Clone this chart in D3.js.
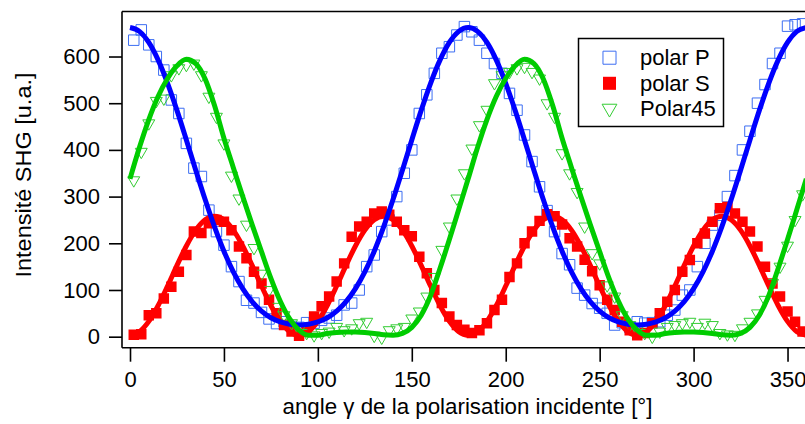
<!DOCTYPE html>
<html><head><meta charset="utf-8">
<script src="https://cdn.jsdelivr.net/npm/d3@7"></script>
<style>
body{margin:0;background:#fff}
svg{display:block}
text{font-family:"Liberation Sans",Arial,Helvetica,sans-serif;fill:#000}
</style></head>
<body><svg id="c" width="805" height="424"></svg>
<script>
// ---- data ----
const angles = [2,6,10,14,18,22,26,30,34,38,42,46,50,54,58,62,66,70,74,78,
  82,86,90,94,98,102,106,110,114,118,122,126,130,134,138,142,146,150,154,158,
  162,166,170,174,178,182,186,190,194,198,202,206,210,214,218,222,226,230,234,238,
  242,246,250,254,258,262,266,270,274,278,282,286,290,294,298,302,306,310,314,318,
  322,326,330,334,338,342,346,350,354,358];
const polarP = [635,657,625,600,571,507,478,414,361,343,271,225,196,150,118,78,72,52,38,28,
  32,22,20,30,29,35,40,46,68,72,100,150,175,225,250,300,350,400,478,518,
  564,607,621,646,664,653,635,607,585,564,521,485,432,375,321,270,225,178,154,104,
  89,71,61,50,25,30,20,32,29,30,32,46,57,89,100,150,200,239,260,300,
  345,400,440,500,540,585,607,665,668,670];
const polarS = [4,5,46,50,82,107,139,175,225,222,243,250,246,228,193,168,139,114,79,50,
  25,11,2,14,43,65,86,118,157,214,236,246,264,268,261,246,228,215,171,136,
  100,72,43,25,15,8,14,29,57,79,128,157,200,225,248,262,258,240,211,193,
  165,140,110,79,57,32,14,3,8,29,50,75,100,139,164,200,221,246,275,278,
  264,246,225,193,150,114,86,54,32,11];
const polar45 = [335,396,457,505,510,560,575,582,585,560,514,471,414,345,296,240,190,135,100,64,
  46,29,15,8,3,8,11,21,14,18,29,32,2,-2,14,18,21,39,54,86,
  128,186,236,296,350,403,453,486,543,560,567,575,578,567,553,500,471,393,350,310,
  236,179,157,110,86,46,25,14,8,0,11,21,25,29,32,21,30,25,8,5,
  4,18,32,50,79,115,150,195,250,305];

const fitAngles = [0,5,10,15,20,25,30,35,40,45,50,55,60,65,70,75,80,85,90,95,
  100,105,110,115,120,125,130,135,140,145,150,155,160,165,170,175,180,185,190,195,
  200,205,210,215,220,225,230,235,240,245,250,255,260,265,270,275,280,285,290,295,
  300,305,310,315,320,325,330,335,340,345,350,355,360];
const fitP = [662,653.9,630.1,592.2,542.7,484.6,421.4,356.6,293.6,235,183,138.8,102.9,75.1,54.7,40.5,31.5,26.6,25,26.6,
  31.5,40.5,54.7,75.1,102.9,138.8,183,235,293.6,356.6,421.4,484.6,542.7,592.2,630.1,653.9,662,653.9,630.1,592.2,
  542.7,484.6,421.4,356.6,293.6,235,183,138.8,102.9,75.1,54.7,40.5,31.5,26.6,25,26.6,31.5,40.5,54.7,75.1,
  102.9,138.8,183,235,293.6,356.6,421.4,484.6,542.7,592.2,630.1,653.9,662];
const fitS = [3,10.7,32.8,66.8,108.4,152.6,194.3,228.2,250.3,258,250.3,228.2,194.3,152.6,108.4,66.8,32.8,10.7,3,10.7,
  32.8,66.8,108.4,152.6,194.3,228.2,250.3,258,250.3,228.2,194.3,152.6,108.4,66.8,32.8,10.7,3,10.7,32.8,66.8,
  108.4,152.6,194.3,228.2,250.3,258,250.3,228.2,194.3,152.6,108.4,66.8,32.8,10.7,3,10.7,32.8,66.8,108.4,152.6,
  194.3,228.2,250.3,258,250.3,228.2,194.3,152.6,108.4,66.8,32.8,10.7,3];
const fit45 = [338,405,465,515,553,580,594,585,552,495,425,362,300,240,182,125,76,38,14,3,
  3,7,9,10,10,9,7,4,3,7,20,46,88,146,208,273,338,405,465,515,
  553,580,594,585,552,495,425,362,300,240,182,125,76,38,14,3,3,7,9,10,
  10,9,7,4,3,7,20,46,88,146,208,273,338];

const xTicks = [0,50,100,150,200,250,300,350];
const yTicks = [0,100,200,300,400,500,600];
const legendLabels = ["polar P","polar S","Polar45"];
const xTitle = "angle \u03b3 de la polarisation incidente [\u00b0]";
const yTitle = "Intensit\u00e9 SHG [u.a.]";

// ---- layout ----
const L = 122, R = 805, T = 11.5, B = 347.7;
const FS = 22;
const svg = d3.select("#c");
const x = d3.scaleLinear().domain([-4.26, 359.3]).range([L, R]);
const y = d3.scaleLinear().domain([-23.6, 696.4]).range([B, T]);

svg.append("defs").append("clipPath").attr("id","clip")
  .append("rect").attr("x",L).attr("y",T).attr("width",R-L).attr("height",B-T);

const plot = svg.append("g").attr("clip-path","url(#clip)");

const colP = "#3d6ef2", colS = "#ff0000", col45 = "#33cc33";
const lineP = "#0000ff", lineS = "#ff0000", line45 = "#00cc00";

const sq = d3.symbol().type(d3.symbolSquare).size(110)();
const tri = d3.symbol().type(d3.symbolTriangle).size(62)();

// markers
plot.append("g").selectAll("path").data(angles).join("path")
  .attr("d", sq).attr("transform",(a,i)=>`translate(${x(a)},${y(polarP[i])})`)
  .attr("fill","none").attr("stroke",colP).attr("stroke-width",1);
plot.append("g").selectAll("path").data(angles).join("path")
  .attr("d", sq).attr("transform",(a,i)=>`translate(${x(a)},${y(polarS[i])})`)
  .attr("fill",colS).attr("stroke","none");
plot.append("g").selectAll("path").data(angles).join("path")
  .attr("d", tri).attr("transform",(a,i)=>`translate(${x(a)},${y(polar45[i])}) rotate(180)`)
  .attr("fill","none").attr("stroke",col45).attr("stroke-width",1);

// fit lines
function fitLine(vals, color){
  const ln = d3.line().x((a)=>x(a)).y((a,i)=>y(vals[i])).curve(d3.curveMonotoneX);
  plot.append("path").attr("d", ln(fitAngles)).attr("fill","none")
    .attr("stroke",color).attr("stroke-width",5).attr("stroke-linejoin","round");
}
fitLine(fitS, lineS);
fitLine(fitP, lineP);
fitLine(fit45, line45);

// frame
const frame = svg.append("g").attr("stroke","#000").attr("stroke-width",1.6);
frame.append("line").attr("x1",L).attr("x2",R).attr("y1",T).attr("y2",T);
frame.append("line").attr("x1",L).attr("x2",L).attr("y1",T).attr("y2",B);
frame.append("line").attr("x1",L).attr("x2",R).attr("y1",B).attr("y2",B);

// axes
const ax = svg.append("g").attr("transform",`translate(0,${B})`)
  .call(d3.axisBottom(x).tickValues(xTicks).tickSize(14).tickPadding(10).tickFormat(d3.format("d")));
const ay = svg.append("g").attr("transform",`translate(${L},0)`)
  .call(d3.axisLeft(y).tickValues(yTicks).tickSize(13).tickPadding(9).tickFormat(d3.format("d")));
[ax, ay].forEach(g=>{
  g.select(".domain").remove();
  g.selectAll(".tick line").attr("stroke","#000").attr("stroke-width",1.6);
  g.selectAll(".tick text").attr("font-size",FS).attr("font-family","Liberation Sans, Arial, sans-serif").attr("fill","#000");
});

// titles
svg.append("text").attr("x",467.5).attr("y",414).attr("text-anchor","middle")
  .attr("font-size",FS).attr("textLength",370).attr("lengthAdjust","spacingAndGlyphs").text(xTitle);
svg.append("text").attr("transform","translate(31,175) rotate(-90)").attr("text-anchor","middle")
  .attr("font-size",FS).attr("textLength",205).attr("lengthAdjust","spacingAndGlyphs").text(yTitle);

// legend
const lg = svg.append("g");
lg.append("rect").attr("x",578.5).attr("y",38.5).attr("width",145).attr("height",88)
  .attr("fill","#fff").attr("stroke","#000").attr("stroke-width",1.5);
const ly = [57.7, 83.3, 108.5];
const lsq = d3.symbol().type(d3.symbolSquare).size(170)();
const ltri = d3.symbol().type(d3.symbolTriangle).size(95)();
lg.append("path").attr("d",lsq).attr("transform",`translate(609.5,${ly[0]})`).attr("fill","none").attr("stroke",colP).attr("stroke-width",1);
lg.append("path").attr("d",lsq).attr("transform",`translate(609.5,${ly[1]})`).attr("fill",colS);
lg.append("path").attr("d",ltri).attr("transform",`translate(609.5,${ly[2]}) rotate(180)`).attr("fill","none").attr("stroke",col45).attr("stroke-width",1);
legendLabels.forEach((t,i)=>{
  lg.append("text").attr("x",640).attr("y",ly[i]+7.5).attr("font-size",FS).text(t);
});
</script></body></html>
